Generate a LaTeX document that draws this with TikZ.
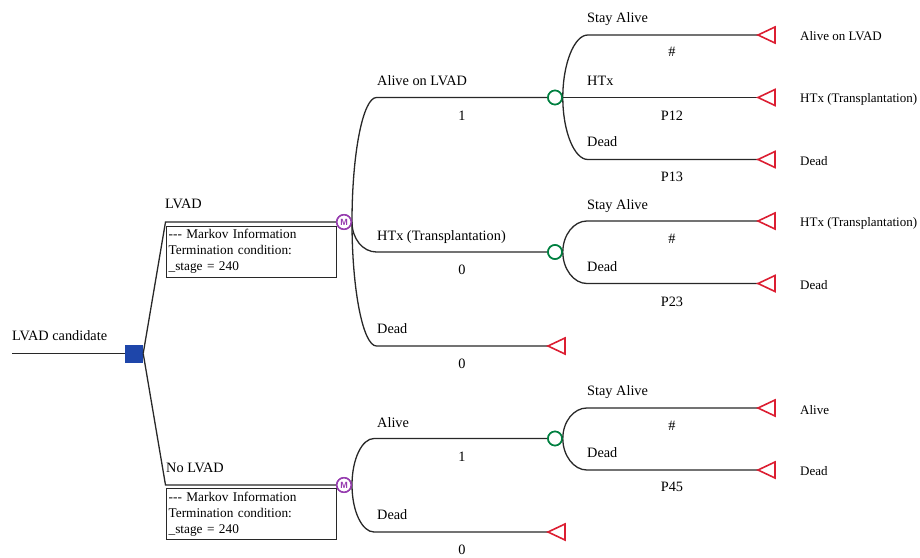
\documentclass[tikz,border=0pt]{standalone}
\usepackage{fontspec}
\setmainfont{Liberation Serif}
\newfontfamily\msans{Liberation Sans}
\usetikzlibrary{calc}
\definecolor{lnc}{RGB}{40,40,40}
\definecolor{chgreen}{RGB}{0,128,64}
\definecolor{mkpurple}{RGB}{150,60,175}
\definecolor{tmred}{RGB}{220,30,50}
\definecolor{dcblue}{RGB}{30,70,170}
\tikzset{
  branch/.style={draw=lnc, line width=1.3pt},
  lbl/.style={font=\fontsize{14.3}{16}\selectfont, inner sep=0pt, anchor=base west},
  plbl/.style={font=\fontsize{14.3}{16}\selectfont, inner sep=0pt, anchor=base},
  tlbl/.style={font=\fontsize{13}{15}\selectfont, inner sep=0pt, anchor=base west},
  chance/.style={circle, draw=chgreen, line width=1.6pt, fill=white, minimum size=14pt, inner sep=0pt},
  markov/.style={circle, draw=mkpurple, line width=1.5pt, fill=white, minimum size=14.5pt, inner sep=0pt,
    text=mkpurple, font=\msans\bfseries\fontsize{9}{9}\selectfont},
  decision/.style={rectangle, fill=dcblue, minimum size=18pt, inner sep=0pt},
  mbox/.style={draw=lnc, line width=1.3pt, rectangle, anchor=north west, minimum width=170pt, minimum height=51pt,
    text width=166pt, align=left, inner sep=1pt, font=\fontsize{13.3}{16}\selectfont},
  termtri/.pic={\draw[tmred, line width=1.6pt, line join=miter] (0,0) -- (17,-8) -- (17,8) -- cycle;}
}
\begin{document}
\begin{tikzpicture}[x=1pt,y=-1pt]
\path[use as bounding box] (0,0) rectangle (920,557);

% nodes
\coordinate (r0) at (12,353.5);
\node[decision] (d) at (134,353.5) {};
\node[markov] (m1) at (344,222) {M};
\node[markov] (m2) at (344,485) {M};
\coordinate (lv) at (165.5,222);
\coordinate (nl) at (165.5,485);
\node[chance] (c1) at (555,97.5) {};
\node[chance] (c2) at (555,252) {};
\node[chance] (c3) at (555,438.5) {};
\coordinate (t11) at (758,35);
\coordinate (t12) at (758,97.5);
\coordinate (t13) at (758,159.5);
\coordinate (t21) at (758,221);
\coordinate (t22) at (758,283.5);
\coordinate (t1d) at (548,346);
\coordinate (t31) at (758,408);
\coordinate (t32) at (758,470);
\coordinate (t2d) at (548,532);

% root and decision
\draw[branch] (r0) -- (d.west);
\draw[branch] (d.east) -- (lv) -- (m1.west);
\draw[branch] (d.east) -- (nl) -- (m2.west);

% markov boxes
\node[mbox] (b1) at (166,225.5) {{-}{-}{-} Markov Information\\Termination condition:\\\_stage = 240};
\node[mbox] (b2) at (166,488) {{-}{-}{-} Markov Information\\Termination condition:\\\_stage = 240};

% markov 1 branches
\draw[branch] (m1.east) to[out=90,in=180,out distance=69pt,in distance=13.5pt] ($(m1.east|-c1.west)+(24.5,0)$) -- (c1.west);
\draw[branch] (m1.east) to[out=270,in=180,out distance=17pt,in distance=13.5pt] ($(m1.east|-c2.west)+(24.5,0)$) -- (c2.west);
\draw[branch] (m1.east) to[out=270,in=180,out distance=68pt,in distance=13.5pt] ($(m1.east|-t1d)+(24.5,0)$) -- (t1d);

% markov 2 branches
\draw[branch] (m2.east) to[out=90,in=180,out distance=26pt,in distance=12pt] ($(m2.east|-c3.west)+(22,0)$) -- (c3.west);
\draw[branch] (m2.east) to[out=270,in=180,out distance=26pt,in distance=12pt] ($(m2.east|-t2d)+(22,0)$) -- (t2d);

% chance 1 branches
\draw[branch] (c1.east) to[out=90,in=180,out distance=34pt,in distance=13.5pt] ($(c1.east|-t11)+(25,0)$) -- (t11);
\draw[branch] (c1.east) -- (t12);
\draw[branch] (c1.east) to[out=270,in=180,out distance=34pt,in distance=13.5pt] ($(c1.east|-t13)+(25,0)$) -- (t13);

% chance 2 branches
\draw[branch] (c2.east) to[out=90,in=180,out distance=17pt,in distance=13pt] ($(c2.east|-t21)+(24,0)$) -- (t21);
\draw[branch] (c2.east) to[out=270,in=180,out distance=17pt,in distance=13pt] ($(c2.east|-t22)+(24,0)$) -- (t22);

% chance 3 branches
\draw[branch] (c3.east) to[out=90,in=180,out distance=17pt,in distance=13pt] ($(c3.east|-t31)+(24,0)$) -- (t31);
\draw[branch] (c3.east) to[out=270,in=180,out distance=17pt,in distance=13pt] ($(c3.east|-t32)+(24,0)$) -- (t32);

% redraw nodes on top
\node[markov] at (m1) {M};
\node[markov] at (m2) {M};
\node[chance] at (c1) {};
\node[chance] at (c2) {};
\node[chance] at (c3) {};

% terminals
\foreach \t in {t11,t12,t13,t21,t22,t1d,t31,t32,t2d} \pic at (\t) {termtri};

% labels
\node[lbl] (l0) at (12,340.5) {LVAD candidate};
\node[lbl] (l1) at (165,208) {LVAD};
\node[lbl] (l2) at (166,472.5) {No LVAD};

\node[lbl] (l11) at (377,85) {Alive on LVAD};
\node[plbl] (p11) at (462,120) {1};
\node[lbl] (l12) at (377,240) {HTx (Transplantation)};
\node[plbl] (p12) at (462,274) {0};
\node[lbl] (l13) at (377,333) {Dead};
\node[plbl] (p13) at (462,368) {0};

\node[lbl] (l21) at (377,427) {Alive};
\node[plbl] (p21) at (462,461) {1};
\node[lbl] (l22) at (377,519) {Dead};
\node[plbl] (p22) at (462,554) {0};

\node[lbl] (a1) at (587,22.5) {Stay Alive};
\node[plbl] (q1) at (672,56) {\#};
\node[lbl] (a2) at (587,85) {HTx};
\node[plbl] (q2) at (672,120) {P12};
\node[lbl] (a3) at (587,146) {Dead};
\node[plbl] (q3) at (672,181) {P13};

\node[lbl] (a4) at (587,209) {Stay Alive};
\node[plbl] (q4) at (672,243) {\#};
\node[lbl] (a5) at (587,271) {Dead};
\node[plbl] (q5) at (672,306.5) {P23};

\node[lbl] (a6) at (587,395.5) {Stay Alive};
\node[plbl] (q6) at (672,430) {\#};
\node[lbl] (a7) at (587,457) {Dead};
\node[plbl] (q7) at (672,491.5) {P45};

\node[tlbl] (e1) at (800,40) {Alive on LVAD};
\node[tlbl] (e2) at (800,102) {HTx (Transplantation)};
\node[tlbl] (e3) at (800,165) {Dead};
\node[tlbl] (e4) at (800,226.5) {HTx (Transplantation)};
\node[tlbl] (e5) at (800,289) {Dead};
\node[tlbl] (e6) at (800,414) {Alive};
\node[tlbl] (e7) at (800,475) {Dead};
\end{tikzpicture}
\end{document}
